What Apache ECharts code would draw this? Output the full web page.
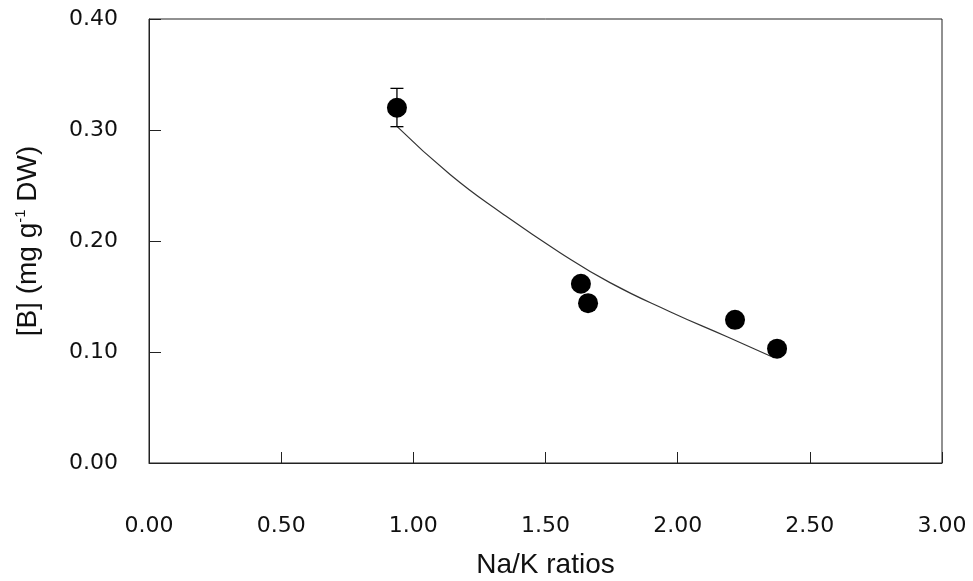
<!DOCTYPE html>
<html>
<head>
<meta charset="utf-8">
<script src="https://cdn.jsdelivr.net/npm/echarts@6/dist/echarts.min.js"></script>
<style>
html,body{margin:0;padding:0;background:#fff;}
#chart{width:973px;height:581px;}
</style>
</head>
<body>
<div id="chart"></div>
<script>
// Measured points (Na/K ratio, [B])
var naK = [0.938, 1.634, 1.661, 2.217, 2.376];
var boron = [0.320, 0.1615, 0.144, 0.129, 0.103];
// error bar (only first point visible)
var errLow = [0.303, null, null, null, null];
var errHigh = [0.3375, null, null, null, null];
// trend curve
var curveX = [0.938, 1.139, 1.336, 1.555, 1.744, 1.971, 2.187, 2.365];
var curveY = [0.3032, 0.2599, 0.2248, 0.1895, 0.1625, 0.1363, 0.1137, 0.0948];
var xTicks = [0, 0.5, 1, 1.5, 2, 2.5, 3];
var yTicks = [0, 0.1, 0.2, 0.3, 0.4];

var FONT = 'DejaVu Sans';
var TFONT = 'Liberation Sans';
var pts = naK.map(function(x,i){return [x, boron[i]];});
var curve = curveX.map(function(x,i){return [x, curveY[i]];});
var errs = [];
naK.forEach(function(x,i){ if(errLow[i]!=null) errs.push([x, errLow[i], errHigh[i]]); });

var chart = echarts.init(document.getElementById('chart'));
chart.setOption({
  animation:false,
  backgroundColor:'#fff',
  grid:{left:149, right:31, top:19, bottom:118, show:true, borderColor:'#222', borderWidth:1,
        containLabel:false, outerBoundsMode:'none'},
  xAxis:{
    type:'value', min:0, max:3, interval:0.5,
    name:'Na/K ratios', nameLocation:'middle', nameGap:88,
    nameTextStyle:{fontFamily:TFONT, fontSize:28, color:'#111'},
    axisLine:{show:true, lineStyle:{color:'#222', width:1}},
    axisTick:{show:true, inside:true, length:11, lineStyle:{color:'#222'}},
    splitLine:{show:false},
    axisLabel:{fontFamily:FONT, fontSize:22, color:'#111', margin:52,
      formatter:function(v){return v.toFixed(2);}}
  },
  yAxis:{
    type:'value', min:0, max:0.4, interval:0.1,
    name:'[B] (mg g{sup|-1} DW)', nameLocation:'middle', nameGap:106, nameRotate:90,
    nameTextStyle:{fontFamily:TFONT, fontSize:28, color:'#111', lineHeight:30,
      rich:{sup:{fontFamily:TFONT, fontSize:15, color:'#111', verticalAlign:'top', lineHeight:30, padding:[0,0,14,0]}}},
    axisLine:{show:true, lineStyle:{color:'#222', width:1}},
    axisTick:{show:true, inside:true, length:12, lineStyle:{color:'#222'}},
    splitLine:{show:false},
    axisLabel:{fontFamily:FONT, fontSize:22, color:'#111', margin:31,
      formatter:function(v){return v.toFixed(2);}}
  },
  series:[
    {
      type:'line', data:curve, smooth:true, symbol:'none',
      lineStyle:{color:'#333', width:1.2}, z:2
    },
    {
      type:'custom', data:errs, z:3,
      renderItem:function(params, api){
        var x = api.value(0);
        var lo = api.coord([x, api.value(1)]);
        var hi = api.coord([x, api.value(2)]);
        var w = 6.5;
        var st = {stroke:'#000', lineWidth:1.3};
        return {type:'group', children:[
          {type:'line', shape:{x1:lo[0], y1:lo[1], x2:hi[0], y2:hi[1]}, style:st},
          {type:'line', shape:{x1:lo[0]-w, y1:lo[1], x2:lo[0]+w, y2:lo[1]}, style:st},
          {type:'line', shape:{x1:hi[0]-w, y1:hi[1], x2:hi[0]+w, y2:hi[1]}, style:st}
        ]};
      }
    },
    {
      type:'scatter', data:pts, symbol:'circle', symbolSize:20,
      itemStyle:{color:'#000', opacity:1}, z:4
    }
  ]
});
</script>
</body>
</html>
